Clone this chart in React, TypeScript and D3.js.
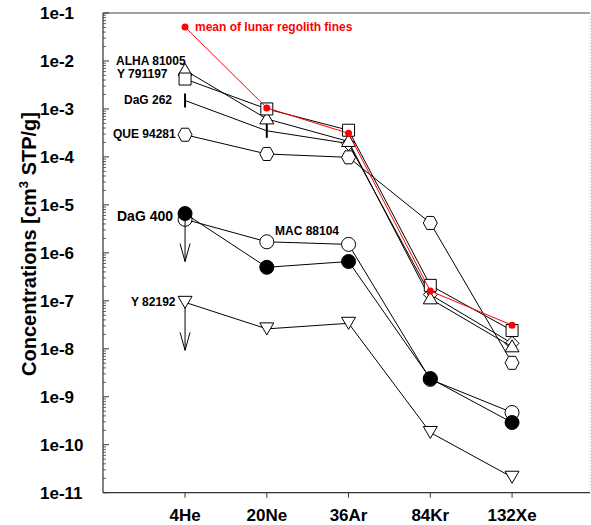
import React, { useEffect, useRef } from "react";
import * as d3 from "d3";

// noble gas isotopes on the x axis
const isotopes = ["4He", "20Ne", "36Ar", "84Kr", "132Xe"];
const decadeLabels = ["1e-11", "1e-10", "1e-9", "1e-8", "1e-7", "1e-6", "1e-5", "1e-4", "1e-3", "1e-2", "1e-1"];

// concentrations [cm3 STP/g], one value per isotope
const alha81005 = [6.4e-3, 6.2e-4, 2.1e-4, 1.1e-7, 1.1e-8];
const y791197 = [4.2e-3, 1.0e-3, 3.6e-4, 2.1e-7, 2.4e-8];
const dag262 = [1.5e-3, 3.5e-4, 1.9e-4, 1.35e-7, 1.3e-8];
const que94281 = [2.9e-4, 1.15e-4, 9.8e-5, 4.2e-6, 5.1e-9];
const mac88104 = [5.0e-6, 1.7e-6, 1.5e-6, 2.3e-9, 4.7e-10];
const dag400 = [6.6e-6, 5.0e-7, 6.6e-7, 2.4e-9, 2.9e-10];
const y82192 = [9.3e-8, 2.6e-8, 3.4e-8, 1.8e-10, 2.1e-11];
const lunarFines = [5.1e-2, 1.05e-3, 3.1e-4, 1.6e-7, 3.1e-8];

const width = 591;
const height = 525;
const left = 103;
const right = 590;
const top = 13;
const bottom = 492.7;

const font = "Liberation Sans, Arial, sans-serif";

// marker paths centred on 0,0
const marker = (shape: string) => {
  switch (shape) {
    case "triUp":
      return "M0,-7L7,5L-7,5Z";
    case "triDown":
      return "M0,6L7,-6L-7,-6Z";
    case "square":
      return "M-6,-6H6V6H-6Z";
    case "diamond":
      return "M0,-7L7,0L0,7L-7,0Z";
    case "hex":
      return "M-3.5,-6.5H3.5L7,0L3.5,6.5H-3.5L-7,0Z";
    case "bar":
      return "M0,-7V7";
    default:
      return "";
  }
};

const series = [
  { name: "QUE 94281", values: que94281, shape: "hex" },
  { name: "DaG 262", values: dag262, shape: "diamond", bars: 2 },
  { name: "ALHA 81005", values: alha81005, shape: "triUp" },
  { name: "Y 791197", values: y791197, shape: "square" },
  { name: "Y 82192", values: y82192, shape: "triDown", limit: true },
  { name: "MAC 88104", values: mac88104, shape: "circle" },
  { name: "DaG 400", values: dag400, shape: "dot", limit: true },
  { name: "mean of lunar regolith fines", values: lunarFines, shape: "red" },
];

const labels = [
  { text: "ALHA 81005", x: 116, y: 65, size: 12 },
  { text: "Y 791197", x: 117, y: 78, size: 12 },
  { text: "DaG 262", x: 124, y: 104, size: 12 },
  { text: "QUE 94281", x: 113, y: 138, size: 12 },
  { text: "DaG 400", x: 117, y: 221, size: 14 },
  { text: "MAC 88104", x: 275, y: 235, size: 12 },
  { text: "Y 82192", x: 131, y: 306, size: 12 },
];

export default function App() {
  const ref = useRef<SVGSVGElement>(null);

  useEffect(() => {
    const svg = d3.select(ref.current);
    svg.selectAll("*").remove();

    const x = d3.scaleLinear().domain([0, 6]).range([103.3, 593.8]);
    const y = d3.scaleLog().domain([1e-11, 1e-1]).range([bottom, top]);

    // frame
    svg
      .append("line")
      .attr("x1", left)
      .attr("x2", right)
      .attr("y1", top)
      .attr("y2", top)
      .style("stroke", "#808080")
      .style("stroke-width", 1.5);
    svg
      .append("line")
      .attr("x1", right)
      .attr("x2", right)
      .attr("y1", top)
      .attr("y2", bottom)
      .style("stroke", "#c0c0c0")
      .style("stroke-dasharray", "1,2");

    // y axis with log minor ticks
    const minor: number[] = [];
    d3.range(-11, -1).forEach((e) => {
      d3.range(2, 10).forEach((m) => minor.push(m * Math.pow(10, e)));
    });
    const yAxis = svg.append("g");
    yAxis
      .selectAll("line.minor")
      .data(minor)
      .enter()
      .append("line")
      .attr("x1", left)
      .attr("x2", left + 3)
      .attr("y1", (d) => y(d))
      .attr("y2", (d) => y(d))
      .style("stroke", "#333")
      .style("stroke-width", 0.8);
    const decades = decadeLabels.map((d, i) => Math.pow(10, i - 11));
    yAxis
      .selectAll("line.major")
      .data(decades)
      .enter()
      .append("line")
      .attr("x1", left)
      .attr("x2", left + 6)
      .attr("y1", (d) => y(d))
      .attr("y2", (d) => y(d))
      .style("stroke", "#333");
    yAxis
      .selectAll("text")
      .data(decadeLabels)
      .enter()
      .append("text")
      .attr("x", 40)
      .attr("y", (d, i) => y(decades[i]))
      .attr("dy", "0.36em")
      .style("font-family", font)
      .style("font-weight", "bold")
      .style("font-size", "17px")
      .text((d) => d);
    yAxis
      .append("line")
      .attr("x1", left)
      .attr("x2", left)
      .attr("y1", top)
      .attr("y2", bottom)
      .style("stroke", "#333")
      .style("stroke-width", 1.2);

    // x axis
    const xAxis = svg.append("g");
    xAxis
      .append("line")
      .attr("x1", left)
      .attr("x2", right)
      .attr("y1", bottom)
      .attr("y2", bottom)
      .style("stroke", "#333")
      .style("stroke-width", 1.2);
    xAxis
      .selectAll("line.tick")
      .data(isotopes)
      .enter()
      .append("line")
      .attr("x1", (d, i) => x(i + 1))
      .attr("x2", (d, i) => x(i + 1))
      .attr("y1", bottom)
      .attr("y2", bottom + 5)
      .style("stroke", "#333");
    xAxis
      .selectAll("text")
      .data(isotopes)
      .enter()
      .append("text")
      .attr("x", (d, i) => x(i + 1))
      .attr("y", 521)
      .attr("text-anchor", "middle")
      .style("font-family", font)
      .style("font-weight", "bold")
      .style("font-size", "17px")
      .text((d) => d);

    // y title
    const title = svg
      .append("text")
      .attr("transform", "translate(36,244) rotate(-90)")
      .attr("text-anchor", "middle")
      .style("font-family", font)
      .style("font-weight", "bold")
      .style("font-size", "20px");
    title.append("tspan").text("Concentrations [cm");
    title.append("tspan").attr("dy", -8).style("font-size", "13px").text("3");
    title.append("tspan").attr("dy", 8).text(" STP/g]");

    const line = d3
      .line<number>()
      .x((d, i) => x(i + 1))
      .y((d) => y(d));

    series.forEach((s) => {
      const g = svg.append("g");
      const red = s.shape === "red";
      g.append("path")
        .attr("d", line(s.values))
        .style("fill", "none")
        .style("stroke", red ? "#ff0000" : "#000")
        .style("stroke-width", 1);

      if (s.limit) {
        const x0 = x(1);
        const y0 = y(s.values[0]);
        g.append("path")
          .attr("d", `M${x0},${y0}V${y0 + 48}M${x0 - 5},${y0 + 30}L${x0},${y0 + 48}L${x0 + 5},${y0 + 30}`)
          .style("fill", "none")
          .style("stroke", "#000")
          .style("stroke-width", 1);
      }

      s.values.forEach((v, i) => {
        const cx = x(i + 1);
        const cy = y(v);
        if (red) {
          g.append("circle").attr("cx", cx).attr("cy", cy).attr("r", 3.5).style("fill", "#ff0000");
        } else if (s.shape === "circle" || s.shape === "dot") {
          g.append("circle")
            .attr("cx", cx)
            .attr("cy", cy)
            .attr("r", 7)
            .style("fill", s.shape === "dot" ? "#000" : "#fff")
            .style("stroke", "#000");
        } else if (s.bars && i < s.bars) {
          g.append("path")
            .attr("transform", `translate(${cx},${cy})`)
            .attr("d", marker("bar"))
            .style("stroke", "#000")
            .style("stroke-width", 2);
        } else {
          g.append("path")
            .attr("transform", `translate(${cx},${cy})`)
            .attr("d", marker(s.shape))
            .style("fill", "#fff")
            .style("stroke", "#000");
        }
      });
    });

    // sample labels
    svg
      .selectAll("text.label")
      .data(labels)
      .enter()
      .append("text")
      .attr("x", (d) => d.x)
      .attr("y", (d) => d.y)
      .style("font-family", font)
      .style("font-weight", "bold")
      .style("font-size", (d) => d.size + "px")
      .text((d) => d.text);

    svg
      .append("text")
      .attr("x", 195)
      .attr("y", 31)
      .style("font-family", font)
      .style("font-weight", "bold")
      .style("font-size", "12px")
      .style("fill", "#ff0000")
      .text("mean of lunar regolith fines");
  }, []);

  return (
    <div style={{ position: "absolute", left: 0, top: 0, background: "#fff" }}>
      <svg ref={ref} width={width} height={height}></svg>
    </div>
  );
}
